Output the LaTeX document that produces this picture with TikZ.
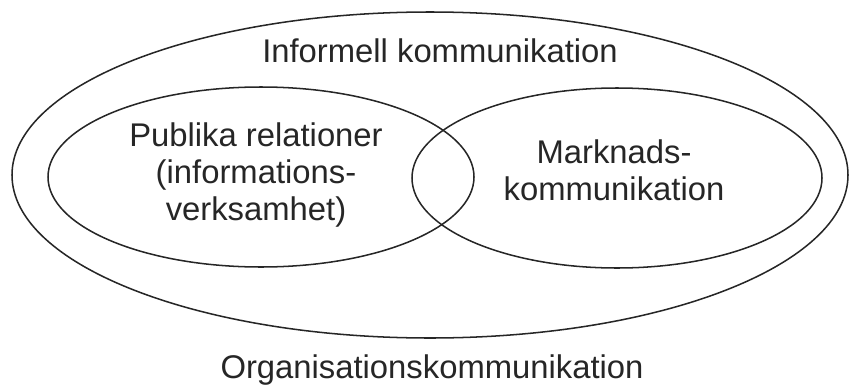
\documentclass[tikz,border=0pt]{standalone}
\usepackage{fontspec}
\setmainfont{Liberation Sans}
\usetikzlibrary{positioning}
\tikzset{
  ring/.style={draw=black!85, line width=1.3pt},
  label/.style={font=\fontsize{28}{31.6}\selectfont, align=center, inner sep=0pt, text=black!85},
}

\begin{document}
\begin{tikzpicture}[x=0.3mm, y=-0.3mm]
\useasboundingbox (0,0) rectangle (849,385);

% outer and inner fields
\draw[ring] (430,175) ellipse [x radius=418, y radius=163];
\draw[ring] (261,177) ellipse [x radius=213, y radius=90];
\draw[ring] (617,178) ellipse [x radius=205, y radius=90];

\node[label, anchor=base] (informell) at (440,62) {Informell kommunikation};
\node[label] (pr) at (256,175) {Publika relationer\\(informations-\\verksamhet)};
\node[label] (marknad) at (614,170) {Marknads-\\kommunikation};
\node[label, anchor=base] (org) at (432,378) {Organisationskommunikation};
\end{tikzpicture}
\end{document}
